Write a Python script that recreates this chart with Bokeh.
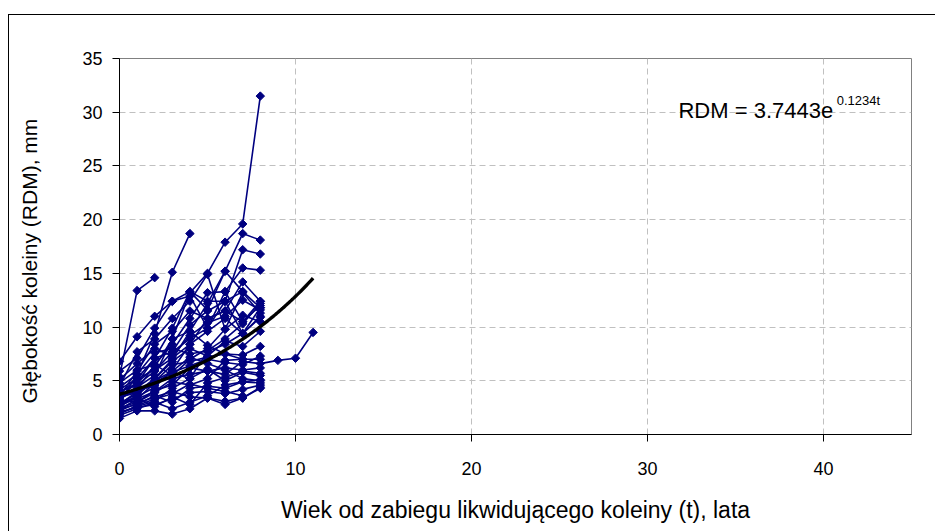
import numpy as np
from bokeh.plotting import figure
from bokeh.models import ColumnDataSource, FixedTicker
from bokeh.core.properties import value
from bokeh.embed import file_html
from bokeh.resources import INLINE

# Rut depth (mm) per road section, one value per year since rut removal (t = 0, 1, 2, ...)
odc_01 = [3.5, 4.8, 6.3, 8.9, 13.2, 15.0, 17.9, 19.6, 31.5]
odc_02 = [5.4, 13.4, 14.6]
odc_03 = [3.0, 5.6, 9.4, 15.1, 18.7]
odc_04 = [2.8, 3.6, 5.2, 7.0, 9.6, 12.2, 15.2, 18.7, 18.1]
odc_05 = [4.0, 4.6, 5.9, 7.7, 10.2, 11.5, 12.4, 17.2, 16.8]
odc_06 = [3.3, 4.2, 6.5, 8.4, 10.8, 13.2, 13.3, 15.5, 15.3]
odc_07 = [2.6, 3.5, 4.4, 6.0, 8.4, 10.8, 11.5, 14.2, 12.4]
odc_08 = [3.8, 5.2, 7.1, 9.9, 13.3, 11.6, 15.2, 13.3, 11.8]
odc_09 = [6.8, 9.1, 11.0, 12.4, 12.9, 9.9, 13.3, 10.5, 12.0]
odc_10 = [4.5, 7.7, 8.9, 10.8, 12.4, 14.9, 9.8, 13.2, 11.3]
odc_11 = [2.0, 2.6, 3.1, 4.3, 5.2, 7.7, 8.4, 9.4, 10.9]
odc_12 = [1.5, 2.2, 2.2, 1.9, 2.4, 3.4, 2.8, 3.4, 4.4]
odc_13 = [2.4, 2.8, 3.6, 3.0, 4.3, 4.5, 4.3, 4.9, 5.1]
odc_14 = [3.1, 3.3, 4.0, 5.2, 5.6, 5.9, 5.6, 6.8, 6.6, 6.9, 7.1, 9.5]
odc_15 = [2.9, 3.8, 4.9, 6.5, 6.8, 7.2, 7.5, 7.4, 8.2]
odc_16 = [3.6, 5.9, 8.4, 9.6, 11.5, 10.8, 11.5, 10.5, 12.4]
odc_17 = [2.2, 2.9, 3.5, 4.0, 3.5, 3.4, 3.1, 3.4, 4.3]
odc_18 = [4.2, 5.2, 6.0, 7.1, 8.4, 9.6, 10.8, 9.4, 11.0]
odc_19 = [2.7, 3.4, 2.6, 3.5, 2.8, 4.8, 5.3, 5.9, 5.7]
odc_20 = [3.4, 4.4, 5.5, 8.9, 9.6, 8.3, 7.5, 7.0, 7.0]
odc_21 = [5.9, 7.1, 9.9, 12.4, 13.3, 12.4, 12.4, 9.4, 11.8]
odc_22 = [2.5, 3.0, 4.1, 4.6, 6.2, 5.9, 6.2, 6.0, 6.2]
odc_23 = [1.8, 2.4, 3.0, 2.4, 3.0, 3.6, 4.6, 4.9, 4.8]
odc_24 = [3.9, 4.8, 7.1, 7.7, 8.9, 9.9, 12.4, 13.3]
odc_25 = [4.8, 6.0, 6.5, 5.5, 7.0, 8.0, 9.8, 11.1, 10.5]
odc_26 = [2.3, 3.3, 4.8, 5.8, 5.2, 6.1, 5.0, 5.8, 5.5]
odc_27 = [3.2, 3.0, 3.9, 4.9, 4.6, 5.2, 6.9, 7.0]
odc_28 = [1.9, 2.7, 3.3, 3.8, 4.7, 4.3, 4.0, 3.6]
odc_29 = [4.4, 5.6, 7.6, 8.0, 7.5, 7.8, 8.9, 10.3, 12.2]
odc_30 = [3.7, 4.0, 4.6, 5.8, 6.4, 7.0, 6.7, 6.5, 7.3]
odc_31 = [2.1, 2.5, 2.8, 3.3, 3.9, 4.0, 3.8, 4.2, 4.6]
odc_32 = [5.1, 6.6, 8.0, 7.3, 9.2, 10.4, 11.0, 12.5, 11.6]
odc_33 = [2.8, 4.0, 5.2, 6.8, 8.0, 7.3, 8.7, 8.2, 9.6]
odc_34 = [3.5, 3.9, 5.0, 5.9, 7.2, 6.6, 6.0, 5.2, 5.0]

sections = [odc_01, odc_02, odc_03, odc_04, odc_05, odc_06, odc_07, odc_08, odc_09,
            odc_10, odc_11, odc_12, odc_13, odc_14, odc_15, odc_16, odc_17, odc_18,
            odc_19, odc_20, odc_21, odc_22, odc_23, odc_24, odc_25, odc_26, odc_27,
            odc_28, odc_29, odc_30, odc_31, odc_32, odc_33, odc_34]

# Exponential trend RDM = a * exp(b * t), fitted over t = 0..11
trend_a = 3.7443
trend_b = 0.1234
trend_t_max = 11

x_ticks = [0, 10, 20, 30, 40]
y_ticks = [0, 5, 10, 15, 20, 25, 30, 35]

FONT = "Liberation Sans"
NAVY = "#000080"
NBSP = "\u00a0"

p = figure(width=927, height=517, x_range=(0, 45), y_range=(0, 35),
           output_backend="svg", toolbar_location=None,
           min_border_left=110, min_border_right=25,
           min_border_top=43, min_border_bottom=98)
p.margin = (14, 0, 0, 8)
p.styles = {"border-left": "1px solid #000000", "border-top": "1px solid #000000"}
p.background_fill_color = "white"
p.border_fill_color = "white"
p.outline_line_color = "#808080"
p.outline_line_width = 1

for ax, ticks in ((p.xaxis, x_ticks), (p.yaxis, y_ticks)):
    ax.ticker = FixedTicker(ticks=ticks)
    ax.axis_line_color = "black"
    ax.axis_line_width = 1
    ax.major_tick_line_color = "black"
    ax.major_tick_in = 0
    ax.major_tick_out = 7
    ax.minor_tick_line_color = None
    ax.major_label_text_font = FONT
    ax.major_label_text_font_size = "18px"
    ax.major_label_text_color = "black"
    ax.axis_label_text_font = FONT
    ax.axis_label_text_font_style = "normal"
    ax.axis_label_text_color = "black"

p.xaxis.axis_label = "Wiek od zabiegu likwidującego koleiny (t), lata"
# trailing padding pushes the rotated title slightly down along the axis
p.yaxis.axis_label = "Głębokość koleiny (RDM), mm" + NBSP * 5
p.xaxis.axis_label_text_font_size = "23px"
p.yaxis.axis_label_text_font_size = "21px"
p.xaxis.major_label_standoff = 20
p.xaxis.axis_label_standoff = 19
p.yaxis.major_label_standoff = 10
p.yaxis.axis_label_standoff = 38

for g in (p.xgrid, p.ygrid):
    g.grid_line_color = "#c0c0c0"
    g.grid_line_dash = "6 4"
    g.grid_line_width = 1

for vals in sections:
    src = ColumnDataSource(dict(t=list(range(len(vals))), rdm=vals))
    p.line("t", "rdm", source=src, line_color=NAVY, line_width=1.6)
    p.scatter("t", "rdm", source=src, marker="square", angle=np.pi / 4, size=6,
              fill_color=NAVY, line_color=NAVY)

tt = np.linspace(0, trend_t_max, 200)
p.line(tt, trend_a * np.exp(trend_b * tt), line_color="black", line_width=3.4)

# Trend equation with superscript exponent
p.text(x=[31.76], y=[30.15], text=[f"RDM = {trend_a}e"],
       text_font=value(FONT), text_font_size="22px", text_color="black",
       text_baseline="alphabetic", text_align="left")
p.text(x=[40.75], y=[31.05], text=[f"{trend_b}t"],
       text_font=value(FONT), text_font_size="13px", text_color="black",
       text_baseline="alphabetic", text_align="left")

open("out.html", "w").write(file_html(p, INLINE))
